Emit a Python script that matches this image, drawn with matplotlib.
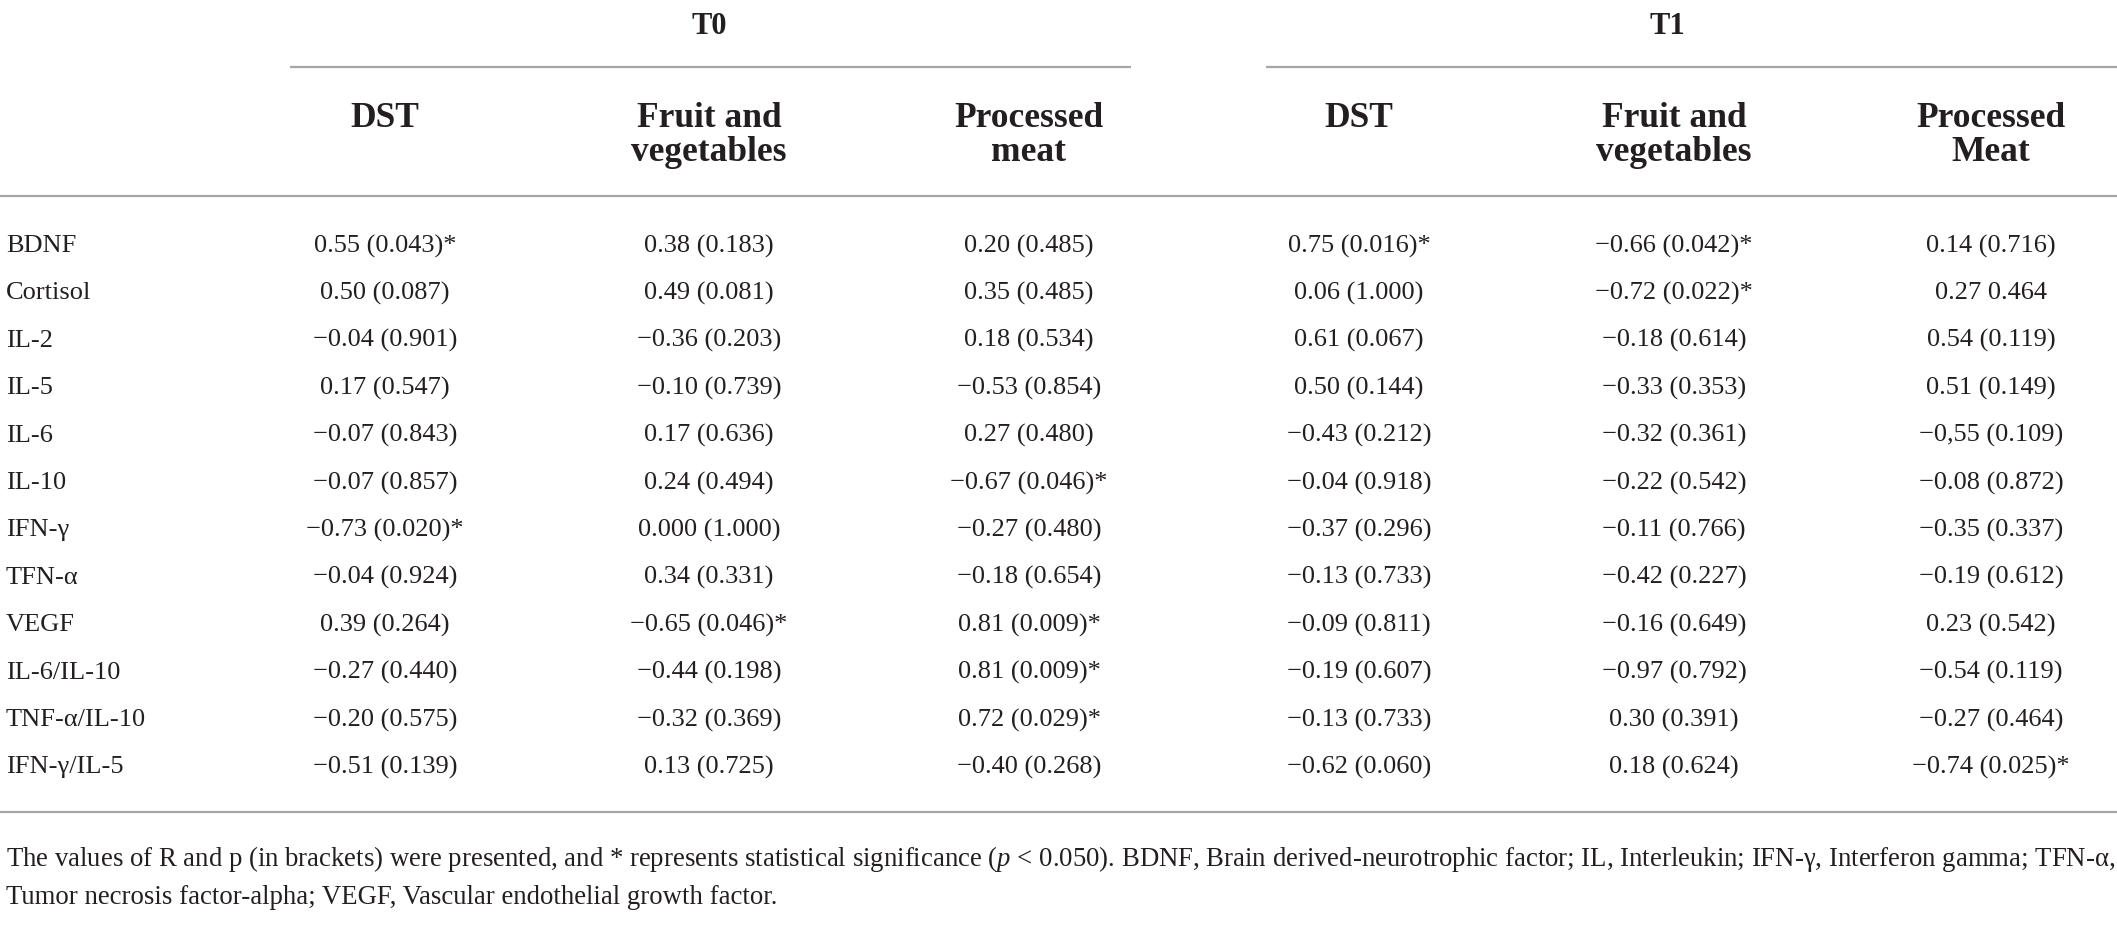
import matplotlib
matplotlib.use("Agg")
import matplotlib.pyplot as plt

# ---------------- data ----------------
groups = ["T0", "T1"]
col_headers = ["DST", "Fruit and\nvegetables", "Processed\nmeat",
               "DST", "Fruit and\nvegetables", "Processed\nMeat"]
row_labels = ["BDNF", "Cortisol", "IL-2", "IL-5", "IL-6", "IL-10", "IFN-γ",
              "TFN-α", "VEGF", "IL-6/IL-10", "TNF-α/IL-10", "IFN-γ/IL-5"]

t0_dst = ["0.55 (0.043)*", "0.50 (0.087)", "−0.04 (0.901)", "0.17 (0.547)",
          "−0.07 (0.843)", "−0.07 (0.857)", "−0.73 (0.020)*", "−0.04 (0.924)",
          "0.39 (0.264)", "−0.27 (0.440)", "−0.20 (0.575)", "−0.51 (0.139)"]
t0_fruit = ["0.38 (0.183)", "0.49 (0.081)", "−0.36 (0.203)", "−0.10 (0.739)",
            "0.17 (0.636)", "0.24 (0.494)", "0.000 (1.000)", "0.34 (0.331)",
            "−0.65 (0.046)*", "−0.44 (0.198)", "−0.32 (0.369)", "0.13 (0.725)"]
t0_meat = ["0.20 (0.485)", "0.35 (0.485)", "0.18 (0.534)", "−0.53 (0.854)",
           "0.27 (0.480)", "−0.67 (0.046)*", "−0.27 (0.480)", "−0.18 (0.654)",
           "0.81 (0.009)*", "0.81 (0.009)*", "0.72 (0.029)*", "−0.40 (0.268)"]
t1_dst = ["0.75 (0.016)*", "0.06 (1.000)", "0.61 (0.067)", "0.50 (0.144)",
          "−0.43 (0.212)", "−0.04 (0.918)", "−0.37 (0.296)", "−0.13 (0.733)",
          "−0.09 (0.811)", "−0.19 (0.607)", "−0.13 (0.733)", "−0.62 (0.060)"]
t1_fruit = ["−0.66 (0.042)*", "−0.72 (0.022)*", "−0.18 (0.614)", "−0.33 (0.353)",
            "−0.32 (0.361)", "−0.22 (0.542)", "−0.11 (0.766)", "−0.42 (0.227)",
            "−0.16 (0.649)", "−0.97 (0.792)", "0.30 (0.391)", "0.18 (0.624)"]
t1_meat = ["0.14 (0.716)", "0.27 0.464", "0.54 (0.119)", "0.51 (0.149)",
           "−0,55 (0.109)", "−0.08 (0.872)", "−0.35 (0.337)", "−0.19 (0.612)",
           "0.23 (0.542)", "−0.54 (0.119)", "−0.27 (0.464)", "−0.74 (0.025)*"]
columns = [t0_dst, t0_fruit, t0_meat, t1_dst, t1_fruit, t1_meat]

footnote1 = ("The values of R and p (in brackets) were presented, and * represents statistical "
             "significance ($\\mathit{p}$ < 0.050). BDNF, Brain derived-neurotrophic factor; "
             "IL, Interleukin; IFN-γ, Interferon gamma; TFN-α,")
footnote2 = "Tumor necrosis factor-alpha; VEGF, Vascular endothelial growth factor."

# ---------------- style / layout ----------------
W, H = 2117, 948
plt.rcParams['font.family'] = ['Liberation Serif', 'DejaVu Serif']
plt.rcParams['mathtext.fontset'] = 'custom'
plt.rcParams['mathtext.rm'] = 'Liberation Serif'
plt.rcParams['mathtext.it'] = 'Liberation Serif:italic'

TXT = "#231f20"
RULE = "#a6a6a6"
data_fs = 19
foot_fs = 19.25
head_fs = 25.5
group_fs = 22

fig = plt.figure(figsize=(W / 100, H / 100), dpi=100)
ax = fig.add_axes([0, 0, 1, 1])
ax.set_xlim(0, W)
ax.set_ylim(H, 0)
ax.axis("off")

col_x = [385, 709, 1029, 1359, 1674, 1991]
group_x = [709, 1667]
group_span = [(290, 1131), (1266, W)]
row_y0, row_dy = 246, 47.4

# group headers
for g, gx, (x0, x1) in zip(groups, group_x, group_span):
    ax.text(gx, 26, g, ha="center", va="center", fontsize=group_fs,
            fontweight="bold", color=TXT)
    ax.plot([x0, x1], [67, 67], color=RULE, lw=1.6, solid_capstyle="butt")

# column headers
for cx, hdr in zip(col_x, col_headers):
    for k, line in enumerate(hdr.split("\n")):
        ax.text(cx, 118 + k * 34, line, ha="center", va="center",
                fontsize=head_fs, fontweight="bold", color=TXT)

ax.plot([0, W], [196, 196], color=RULE, lw=1.6, solid_capstyle="butt")

# body
for i, lab in enumerate(row_labels):
    y = row_y0 + i * row_dy
    ax.text(6, y, lab, ha="left", va="center", fontsize=data_fs, color=TXT)
    for cx, col in zip(col_x, columns):
        ax.text(cx, y, col[i], ha="center", va="center", fontsize=data_fs, color=TXT)

ax.plot([0, W], [812, 812], color=RULE, lw=1.6, solid_capstyle="butt")

ax.text(6, 859, footnote1, ha="left", va="center", fontsize=foot_fs, color=TXT)
ax.text(6, 898, footnote2, ha="left", va="center", fontsize=foot_fs, color=TXT)

fig.savefig("out.png", dpi=100, facecolor="white")
